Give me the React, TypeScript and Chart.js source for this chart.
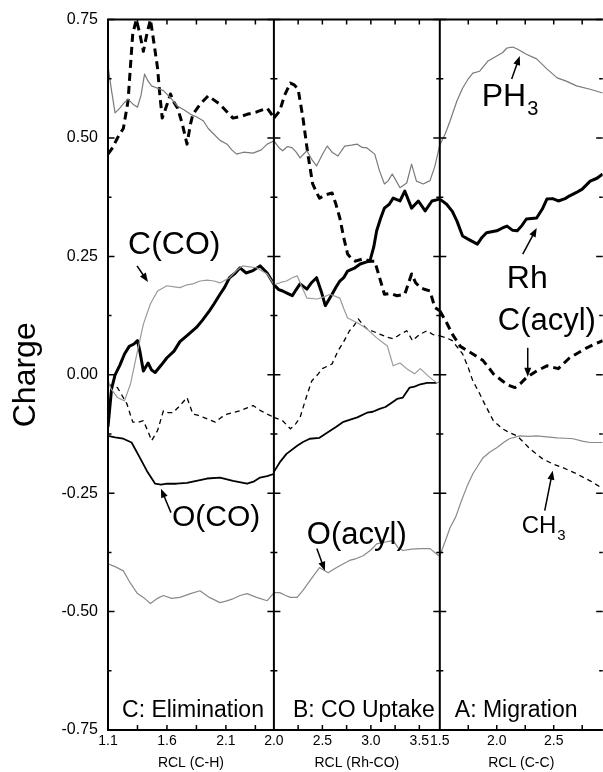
import React, { useEffect, useRef } from 'react';
import { Chart, registerables } from 'chart.js';

Chart.register(...registerables);

const FONT = '"Liberation Sans", Arial, Helvetica, sans-serif';

// ---- axes ----
const C_RANGE = [1.1, 2.507];
const B_RANGE = [2.0, 3.711];
const A_RANGE = [1.5, 2.93];
const C_TICKS = [1.1, 1.35, 1.6, 1.85, 2.1, 2.35];
const C_TICK_LABELS = ['1.1', '', '1.6', '', '2.1', ''];
const B_TICKS = [2.0, 2.25, 2.5, 2.75, 3.0, 3.25, 3.5];
const B_TICK_LABELS = ['2.0', '', '2.5', '', '3.0', '', '3.5'];
const A_TICKS = [1.5, 1.75, 2.0, 2.25, 2.5, 2.75];
const A_TICK_LABELS = ['1.5', '', '2.0', '', '2.5', ''];
const Y_TICKS = [-0.75, -0.5, -0.25, 0, 0.25, 0.5, 0.75];
const X_TITLES = ['RCL (C-H)', 'RCL (Rh-CO)', 'RCL (C-C)'];

// ---- series (x, charge) ----
const PH3_C = [[1.10,0.652],[1.13,0.60],[1.16,0.553],[1.20,0.563],[1.24,0.575],[1.27,0.582],[1.31,0.572],[1.35,0.565],[1.38,0.59],[1.41,0.635],[1.44,0.62],[1.47,0.61],[1.52,0.605],[1.57,0.60],[1.63,0.585],[1.69,0.567],[1.74,0.56],[1.80,0.55],[1.85,0.545],[1.91,0.536],[1.95,0.52],[1.99,0.51],[2.05,0.495],[2.11,0.487],[2.15,0.475],[2.19,0.466],[2.25,0.47],[2.33,0.468],[2.40,0.475],[2.45,0.487],[2.51,0.494]];
const PH3_B = [[2.00,0.494],[2.05,0.48],[2.09,0.473],[2.14,0.482],[2.19,0.479],[2.23,0.47],[2.27,0.458],[2.34,0.473],[2.39,0.455],[2.44,0.441],[2.50,0.465],[2.55,0.483],[2.60,0.47],[2.66,0.462],[2.73,0.483],[2.80,0.485],[2.86,0.487],[2.91,0.48],[2.96,0.479],[3.04,0.466],[3.09,0.43],[3.14,0.403],[3.18,0.41],[3.22,0.424],[3.26,0.41],[3.30,0.395],[3.37,0.405],[3.42,0.445],[3.47,0.409],[3.54,0.403],[3.61,0.41],[3.66,0.44],[3.71,0.485]];
const PH3_A = [[1.50,0.485],[1.55,0.51],[1.59,0.536],[1.65,0.578],[1.70,0.605],[1.75,0.625],[1.79,0.637],[1.85,0.641],[1.92,0.662],[2.00,0.673],[2.05,0.68],[2.09,0.69],[2.14,0.692],[2.18,0.688],[2.26,0.677],[2.35,0.667],[2.44,0.646],[2.53,0.627],[2.61,0.62],[2.70,0.61],[2.82,0.603],[2.93,0.595]];

const RH_C = [[1.10,-0.11],[1.13,-0.03],[1.16,0.0],[1.20,0.02],[1.24,0.044],[1.28,0.06],[1.32,0.065],[1.35,0.072],[1.37,0.05],[1.40,0.008],[1.44,0.025],[1.47,0.01],[1.50,0.005],[1.55,0.02],[1.60,0.036],[1.66,0.05],[1.71,0.07],[1.78,0.085],[1.85,0.10],[1.90,0.115],[1.96,0.135],[2.00,0.15],[2.05,0.17],[2.09,0.185],[2.13,0.205],[2.18,0.215],[2.22,0.226],[2.27,0.215],[2.33,0.22],[2.39,0.23],[2.45,0.215],[2.51,0.19]];
const RH_B = [[2.00,0.19],[2.05,0.18],[2.09,0.177],[2.14,0.172],[2.19,0.167],[2.23,0.18],[2.27,0.192],[2.34,0.181],[2.39,0.195],[2.44,0.205],[2.49,0.175],[2.53,0.146],[2.60,0.17],[2.64,0.185],[2.68,0.198],[2.72,0.205],[2.76,0.219],[2.83,0.225],[2.89,0.234],[2.95,0.238],[2.99,0.24],[3.03,0.27],[3.06,0.304],[3.10,0.33],[3.14,0.352],[3.19,0.36],[3.23,0.373],[3.30,0.367],[3.35,0.388],[3.42,0.352],[3.49,0.367],[3.56,0.346],[3.63,0.367],[3.71,0.371]];
const RH_A = [[1.50,0.371],[1.56,0.36],[1.61,0.345],[1.65,0.325],[1.70,0.293],[1.76,0.285],[1.83,0.276],[1.87,0.29],[1.91,0.30],[2.00,0.304],[2.05,0.31],[2.09,0.314],[2.14,0.305],[2.18,0.304],[2.22,0.315],[2.26,0.329],[2.35,0.331],[2.40,0.35],[2.44,0.371],[2.49,0.372],[2.54,0.367],[2.60,0.372],[2.64,0.378],[2.70,0.385],[2.75,0.392],[2.82,0.409],[2.88,0.415],[2.93,0.424]];

const CACYL_C = [[1.10,0.466],[1.14,0.48],[1.18,0.50],[1.23,0.52],[1.27,0.578],[1.29,0.65],[1.31,0.72],[1.34,0.75],[1.37,0.72],[1.40,0.683],[1.43,0.72],[1.46,0.75],[1.49,0.70],[1.52,0.648],[1.54,0.59],[1.56,0.542],[1.60,0.57],[1.63,0.593],[1.66,0.575],[1.69,0.563],[1.73,0.53],[1.77,0.487],[1.80,0.53],[1.82,0.55],[1.88,0.571],[1.95,0.589],[2.00,0.58],[2.05,0.571],[2.11,0.555],[2.16,0.542],[2.22,0.545],[2.28,0.55],[2.36,0.555],[2.45,0.563],[2.51,0.542]];
const CACYL_B = [[2.00,0.542],[2.06,0.557],[2.11,0.59],[2.17,0.616],[2.21,0.612],[2.25,0.603],[2.30,0.542],[2.35,0.466],[2.40,0.403],[2.44,0.385],[2.47,0.373],[2.53,0.38],[2.60,0.384],[2.64,0.36],[2.68,0.331],[2.72,0.29],[2.76,0.255],[2.80,0.245],[2.84,0.24],[2.92,0.245],[2.99,0.24],[3.04,0.24],[3.09,0.205],[3.14,0.17],[3.20,0.172],[3.27,0.167],[3.35,0.17],[3.42,0.213],[3.46,0.195],[3.51,0.184],[3.56,0.18],[3.61,0.177],[3.66,0.142],[3.71,0.135]];
const CACYL_A = [[1.50,0.135],[1.56,0.11],[1.61,0.086],[1.68,0.06],[1.79,0.044],[1.88,0.03],[1.93,0.015],[1.97,0.002],[2.05,-0.013],[2.10,-0.022],[2.16,-0.027],[2.21,-0.018],[2.26,-0.006],[2.35,0.008],[2.44,0.019],[2.54,0.013],[2.64,0.036],[2.72,0.047],[2.79,0.057],[2.86,0.065],[2.93,0.072]];

const CCO_C = [[1.10,-0.01],[1.12,-0.027],[1.18,-0.048],[1.24,-0.055],[1.29,-0.02],[1.32,0.015],[1.35,0.05],[1.40,0.107],[1.46,0.15],[1.52,0.177],[1.60,0.188],[1.65,0.186],[1.71,0.184],[1.77,0.19],[1.82,0.192],[1.88,0.198],[1.94,0.20],[2.00,0.198],[2.05,0.194],[2.13,0.205],[2.19,0.22],[2.24,0.23],[2.30,0.228],[2.36,0.226],[2.45,0.213],[2.51,0.19]];
const CCO_B = [[2.00,0.19],[2.07,0.195],[2.13,0.198],[2.19,0.205],[2.24,0.209],[2.29,0.185],[2.34,0.162],[2.45,0.16],[2.52,0.165],[2.58,0.17],[2.68,0.162],[2.72,0.14],[2.76,0.12],[2.86,0.11],[2.96,0.097],[3.06,0.078],[3.17,0.061],[3.20,0.04],[3.23,0.019],[3.30,0.025],[3.37,0.013],[3.45,0.002],[3.51,0.013],[3.61,-0.006],[3.68,-0.017],[3.71,-0.015]];

const CH3_C = [[1.10,-0.02],[1.18,-0.027],[1.26,-0.061],[1.31,-0.10],[1.36,-0.1],[1.40,-0.097],[1.44,-0.12],[1.47,-0.139],[1.52,-0.118],[1.57,-0.076],[1.61,-0.08],[1.65,-0.08],[1.71,-0.065],[1.77,-0.048],[1.82,-0.083],[1.86,-0.085],[1.91,-0.09],[1.96,-0.095],[2.01,-0.10],[2.06,-0.09],[2.11,-0.083],[2.16,-0.08],[2.22,-0.076],[2.28,-0.07],[2.33,-0.065],[2.39,-0.075],[2.45,-0.083],[2.51,-0.09]];
const CH3_B = [[2.00,-0.09],[2.09,-0.097],[2.17,-0.114],[2.22,-0.105],[2.27,-0.09],[2.33,-0.05],[2.39,-0.013],[2.45,0.0],[2.50,0.013],[2.55,0.018],[2.60,0.023],[2.66,0.05],[2.72,0.07],[2.78,0.093],[2.83,0.105],[2.87,0.118],[2.92,0.105],[2.96,0.097],[3.02,0.092],[3.09,0.086],[3.16,0.08],[3.23,0.076],[3.30,0.085],[3.37,0.093],[3.43,0.072],[3.50,0.085],[3.58,0.093],[3.64,0.085],[3.71,0.082]];
const CH3_A = [[1.50,0.082],[1.56,0.078],[1.61,0.072],[1.70,0.044],[1.75,0.015],[1.79,-0.013],[1.84,-0.035],[1.88,-0.055],[1.97,-0.097],[2.05,-0.114],[2.11,-0.122],[2.18,-0.129],[2.29,-0.156],[2.40,-0.177],[2.49,-0.188],[2.58,-0.196],[2.70,-0.209],[2.82,-0.224],[2.93,-0.24]];

const OCO_C = [[1.10,-0.129],[1.16,-0.132],[1.23,-0.135],[1.30,-0.143],[1.37,-0.175],[1.43,-0.203],[1.50,-0.23],[1.55,-0.232],[1.60,-0.23],[1.68,-0.23],[1.77,-0.228],[1.85,-0.224],[1.94,-0.219],[2.05,-0.217],[2.16,-0.224],[2.28,-0.23],[2.34,-0.225],[2.39,-0.217],[2.45,-0.214],[2.51,-0.209]];
const OCO_B = [[2.00,-0.205],[2.06,-0.185],[2.13,-0.167],[2.24,-0.15],[2.30,-0.142],[2.37,-0.135],[2.47,-0.133],[2.58,-0.118],[2.64,-0.11],[2.71,-0.10],[2.78,-0.095],[2.86,-0.09],[2.96,-0.08],[3.02,-0.078],[3.09,-0.072],[3.15,-0.068],[3.20,-0.061],[3.27,-0.051],[3.33,-0.048],[3.40,-0.027],[3.45,-0.025],[3.51,-0.02],[3.58,-0.017],[3.68,-0.017]];

const OACYL_C = [[1.10,-0.399],[1.16,-0.405],[1.23,-0.414],[1.29,-0.44],[1.35,-0.462],[1.40,-0.47],[1.46,-0.483],[1.52,-0.472],[1.57,-0.466],[1.64,-0.472],[1.71,-0.47],[1.80,-0.462],[1.88,-0.456],[1.96,-0.47],[2.05,-0.481],[2.10,-0.478],[2.16,-0.473],[2.22,-0.466],[2.28,-0.462],[2.36,-0.47],[2.45,-0.477],[2.51,-0.46]];
const OACYL_B = [[2.00,-0.46],[2.06,-0.46],[2.12,-0.466],[2.17,-0.47],[2.24,-0.47],[2.30,-0.455],[2.37,-0.435],[2.47,-0.407],[2.52,-0.413],[2.56,-0.418],[2.62,-0.41],[2.68,-0.403],[2.78,-0.392],[2.85,-0.388],[2.92,-0.382],[3.00,-0.37],[3.06,-0.357],[3.15,-0.353],[3.23,-0.35],[3.28,-0.365],[3.33,-0.371],[3.42,-0.368],[3.51,-0.367],[3.61,-0.367],[3.70,-0.382]];
const OACYL_A = [[1.50,-0.382],[1.55,-0.35],[1.59,-0.323],[1.64,-0.3],[1.69,-0.266],[1.74,-0.235],[1.79,-0.209],[1.84,-0.19],[1.88,-0.175],[1.94,-0.163],[2.00,-0.154],[2.06,-0.143],[2.11,-0.135],[2.20,-0.129],[2.28,-0.13],[2.35,-0.129],[2.44,-0.131],[2.53,-0.133],[2.60,-0.134],[2.67,-0.135],[2.75,-0.14],[2.82,-0.143],[2.93,-0.143]];

// ---- annotations (panel axis, data coords) ----
const TEXT_LABELS = [
  { text: 'PH', sub: '3', axis: 'xA', x: 1.868, y: 0.5675, size: 32, subSize: 20 },
  { text: 'Rh', axis: 'xA', x: 2.088, y: 0.1835, size: 32 },
  { text: 'C(acyl)', axis: 'xA', x: 2.009, y: 0.095, size: 31 },
  { text: 'CH', sub: '3', axis: 'xA', x: 2.219, y: -0.335, size: 24, subSize: 15 },
  { text: 'C(CO)', axis: 'xC', x: 1.27, y: 0.255, size: 32 },
  { text: 'O(CO)', axis: 'xC', x: 1.642, y: -0.3186, size: 30 },
  { text: 'O(acyl)', axis: 'xB', x: 2.34, y: -0.3565, size: 31 },
  { text: 'C: Elimination', axis: 'xC', x: 1.219, y: -0.7215, size: 23 },
  { text: 'B: CO Uptake', axis: 'xB', x: 2.196, y: -0.7215, size: 23 },
  { text: 'A: Migration', axis: 'xA', x: 1.632, y: -0.7215, size: 23 },
];
const ARROWS = [
  { axis: 'xA', x1: 2.131, y1: 0.6245, x2: 2.202, y2: 0.673 },
  { axis: 'xA', x1: 2.228, y1: 0.255, x2: 2.351, y2: 0.31 },
  { axis: 'xA', x1: 2.272, y1: 0.057, x2: 2.272, y2: -0.004 },
  { axis: 'xA', x1: 2.421, y1: -0.287, x2: 2.491, y2: -0.2025 },
  { axis: 'xC', x1: 1.346, y1: 0.23, x2: 1.439, y2: 0.196 },
  { axis: 'xC', x1: 1.634, y1: -0.291, x2: 1.549, y2: -0.2405 },
  { axis: 'xB', x1: 2.443, y1: -0.367, x2: 2.526, y2: -0.4135 },
];

const STYLES: Record<string, any> = {
  PH3: { borderColor: '#7a7a7a', borderWidth: 1.2, borderDash: [] },
  Rh: { borderColor: '#000', borderWidth: 3, borderDash: [] },
  Cacyl: { borderColor: '#000', borderWidth: 3, borderDash: [8, 5] },
  CCO: { borderColor: '#9a9a9a', borderWidth: 1.2, borderDash: [] },
  CH3: { borderColor: '#000', borderWidth: 1.3, borderDash: [5, 4] },
  OCO: { borderColor: '#000', borderWidth: 1.8, borderDash: [] },
  Oacyl: { borderColor: '#8a8a8a', borderWidth: 1.2, borderDash: [] },
};

const SERIES: [string, string, number[][]][] = [
  ['PH3', 'xC', PH3_C], ['PH3', 'xB', PH3_B], ['PH3', 'xA', PH3_A],
  ['Oacyl', 'xC', OACYL_C], ['Oacyl', 'xB', OACYL_B], ['Oacyl', 'xA', OACYL_A],
  ['CCO', 'xC', CCO_C], ['CCO', 'xB', CCO_B],
  ['CH3', 'xC', CH3_C], ['CH3', 'xB', CH3_B], ['CH3', 'xA', CH3_A],
  ['OCO', 'xC', OCO_C], ['OCO', 'xB', OCO_B],
  ['Rh', 'xC', RH_C], ['Rh', 'xB', RH_B], ['Rh', 'xA', RH_A],
  ['Cacyl', 'xC', CACYL_C], ['Cacyl', 'xB', CACYL_B], ['Cacyl', 'xA', CACYL_A],
];

function drawArrow(ctx: CanvasRenderingContext2D, x1: number, y1: number, x2: number, y2: number) {
  const ang = Math.atan2(y2 - y1, x2 - x1);
  const L = 9, W = 3.5;
  ctx.beginPath();
  ctx.moveTo(x1, y1);
  ctx.lineTo(x2 - Math.cos(ang) * L * 0.7, y2 - Math.sin(ang) * L * 0.7);
  ctx.stroke();
  ctx.beginPath();
  ctx.moveTo(x2, y2);
  ctx.lineTo(x2 - L * Math.cos(ang) + W * Math.sin(ang), y2 - L * Math.sin(ang) - W * Math.cos(ang));
  ctx.lineTo(x2 - L * Math.cos(ang) - W * Math.sin(ang), y2 - L * Math.sin(ang) + W * Math.cos(ang));
  ctx.closePath();
  ctx.fill();
}

const framePlugin = {
  id: 'frame',
  afterDatasetsDraw(chart: any) {
    const { ctx, chartArea: ca, scales } = chart;
    const y = scales.y;
    const xs = [scales.xC, scales.xB, scales.xA];
    ctx.save();
    ctx.strokeStyle = '#000';
    ctx.lineWidth = 2;
    ctx.beginPath();
    ctx.moveTo(ca.left, ca.top); ctx.lineTo(ca.right, ca.top);
    ctx.moveTo(ca.left, ca.bottom); ctx.lineTo(ca.right, ca.bottom);
    ctx.moveTo(ca.left, ca.top - 1); ctx.lineTo(ca.left, ca.bottom + 1);
    [scales.xC, scales.xB].forEach((s: any) => {
      ctx.moveTo(s.right, ca.top); ctx.lineTo(s.right, ca.bottom);
    });
    ctx.stroke();
    ctx.lineWidth = 1.5;
    ctx.beginPath();
    xs.forEach((s: any) => {
      s.ticks.forEach((t: any, i: number) => {
        if (i === 0) return;
        const px = s.getPixelForValue(t.value);
        ctx.moveTo(px, ca.bottom); ctx.lineTo(px, ca.bottom - 5);
        ctx.moveTo(px, ca.top); ctx.lineTo(px, ca.top + 5);
      });
    });
    const dividers = [scales.xC.right, scales.xB.right];
    for (let i = 0; i < Y_TICKS.length; i++) {
      const vals: [number, number][] = [[Y_TICKS[i], 6.5]];
      if (i < Y_TICKS.length - 1) vals.push([(Y_TICKS[i] + Y_TICKS[i + 1]) / 2, 3.5]);
      vals.forEach(([v, len]) => {
        const py = y.getPixelForValue(v);
        ctx.moveTo(ca.left, py); ctx.lineTo(ca.left + len, py);
        dividers.forEach((d: number) => { ctx.moveTo(d - len, py); ctx.lineTo(d + len, py); });
        ctx.moveTo(ca.right, py); ctx.lineTo(ca.right - len, py);
      });
    }
    ctx.stroke();
    ctx.restore();
  },
  afterDraw(chart: any) {
    const { ctx, scales } = chart;
    const y = scales.y;
    ctx.save();
    ctx.fillStyle = '#000';
    ctx.strokeStyle = '#000';
    ctx.lineWidth = 1.5;
    ctx.textBaseline = 'alphabetic';
    ctx.textAlign = 'left';
    TEXT_LABELS.forEach((l: any) => {
      const s = scales[l.axis];
      const px = s.getPixelForValue(l.x);
      const py = y.getPixelForValue(l.y);
      ctx.font = `${l.size}px ${FONT}`;
      ctx.fillText(l.text, px, py);
      if (l.sub) {
        const w = ctx.measureText(l.text).width;
        ctx.font = `${l.subSize}px ${FONT}`;
        ctx.fillText(l.sub, px + w + 1, py + l.subSize * 0.45);
      }
    });
    ARROWS.forEach((a: any) => {
      const s = scales[a.axis];
      drawArrow(ctx, s.getPixelForValue(a.x1), y.getPixelForValue(a.y1), s.getPixelForValue(a.x2), y.getPixelForValue(a.y2));
    });
    ctx.restore();
  },
};

function xScale(range: number[], ticks: number[], labels: string[], title: string, weight: number) {
  return {
    type: 'linear',
    position: 'bottom',
    stack: 'x',
    stackWeight: weight,
    min: range[0],
    max: range[1],
    afterBuildTicks: (s: any) => { s.ticks = ticks.map((v) => ({ value: v })); },
    afterFit: (s: any) => { s.height = 42; },
    grid: { display: false, drawTicks: false, tickLength: 0 },
    border: { display: false },
    ticks: {
      autoSkip: false,
      maxRotation: 0,
      padding: 3,
      color: '#000',
      font: { size: 14, family: FONT },
      callback: (_v: any, i: number) => labels[i],
    },
    title: { display: true, text: title, color: '#000', font: { size: 14, family: FONT }, padding: { top: 0, bottom: 0 } },
  };
}

export default function App() {
  const ref = useRef<HTMLCanvasElement | null>(null);
  useEffect(() => {
    document.body.style.margin = '0';
    const datasets = SERIES.map(([name, axis, pts]) => ({
      label: name,
      data: pts.map(([x, v]) => ({ x, y: v })),
      xAxisID: axis,
      yAxisID: 'y',
      ...STYLES[name],
      pointRadius: 0,
      tension: 0,
      fill: false,
      borderJoinStyle: 'round',
    }));
    const chart = new Chart(ref.current as HTMLCanvasElement, {
      type: 'line',
      data: { datasets } as any,
      options: {
        animation: false,
        responsive: true,
        maintainAspectRatio: false,
        layout: { padding: { top: 19, left: 0, right: 0, bottom: 0 } },
        plugins: { legend: { display: false }, tooltip: { enabled: false } },
        events: [],
        scales: {
          xC: xScale(C_RANGE, C_TICKS, C_TICK_LABELS, X_TITLES[0], 166),
          xB: xScale(B_RANGE, B_TICKS, B_TICK_LABELS, X_TITLES[1], 166),
          xA: xScale(A_RANGE, A_TICKS, A_TICK_LABELS, X_TITLES[2], 163),
          y: {
            type: 'linear',
            position: 'left',
            min: -0.75,
            max: 0.75,
            afterBuildTicks: (s: any) => { s.ticks = Y_TICKS.map((v) => ({ value: v })); },
            afterFit: (s: any) => { s.width = 108; },
            grid: { display: false, drawTicks: false, tickLength: 0 },
            border: { display: false },
            ticks: {
              padding: 10,
              color: '#000',
              font: { size: 16, family: FONT },
              callback: (v: any) => Number(v).toFixed(2),
            },
            title: { display: true, text: 'Charge', color: '#000', font: { size: 32, family: FONT }, padding: { top: 7, bottom: 0 } },
          },
        } as any,
      },
      plugins: [framePlugin],
    });
    return () => chart.destroy();
  }, []);
  return (
    <div style={{ width: 603, height: 772, position: 'relative' }}>
      <canvas ref={ref} />
    </div>
  );
}
